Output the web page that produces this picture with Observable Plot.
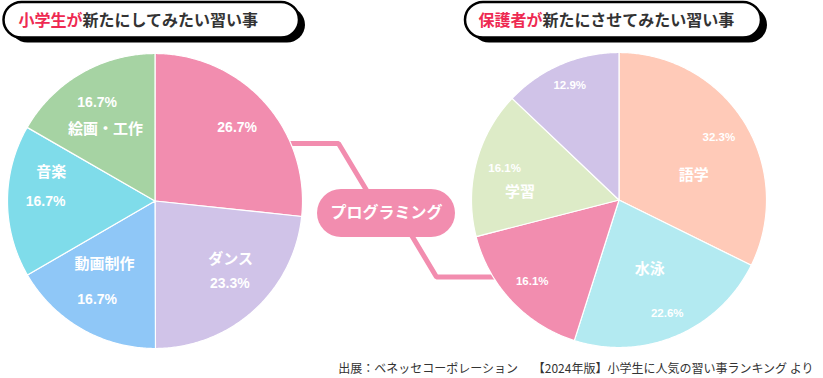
<!DOCTYPE html>
<html><head><meta charset="utf-8">
<script src="https://cdn.jsdelivr.net/npm/d3@7"></script>
<script src="https://cdn.jsdelivr.net/npm/@observablehq/plot@0.6"></script>
<style>body{margin:0;background:#fff}svg{display:block}</style>
</head><body><div id="chart"></div>
<script>
// ---- data ----
const childCategories = ["プログラミング", "ダンス", "動画制作", "音楽", "絵画・工作"];
const childValues = [26.7, 23.3, 16.7, 16.7, 16.7];
const parentCategories = ["語学", "水泳", "プログラミング", "学習", "その他"];
const parentValues = [32.3, 22.6, 16.1, 16.1, 12.9];
const titleAccents = ["小学生が", "保護者が"];
const titleRests = ["新たにしてみたい習い事", "新たにさせてみたい習い事"];
const sharedCategory = "プログラミング";
const sourceText = "出展：ベネッセコーポレーション　 【2024年版】小学生に人気の習い事ランキング より";

// ---- styles / layout ----
const childColors = ["#F28DAF", "#D0C3E8", "#8FC7F7", "#7FDCEA", "#A6D3A3"];
const parentColors = ["#FFCAB8", "#B3EAF1", "#F28DAF", "#DDEBC7", "#D0C3E8"];
const W = 823, H = 378, R = 147.5;
const pies = [
  {cx: 154.5, cy: 200.5, cats: childCategories, vals: childValues, colors: childColors, pctSize: 14,
   // [name dx, name dy, pct dx, pct dy] in radius units; null = hidden name
   lab: [[null, null, 0.557, -0.496], [0.512, 0.392, 0.507, 0.561], [-0.342, 0.431, -0.392, 0.67],
         [-0.704, -0.195, -0.742, 0.001], [-0.336, -0.485, -0.392, -0.67]]},
  {cx: 618.5, cy: 199.5, cats: parentCategories, vals: parentValues, colors: parentColors, pctSize: 11.5,
   lab: [[0.507, -0.166, 0.677, -0.426], [0.209, 0.471, 0.327, 0.765], [null, null, -0.588, 0.553],
         [-0.672, -0.053, -0.776, -0.212], [null, null, -0.334, -0.776]]}
];
const pink = "#F28DAF";
const cjk = "'Noto Sans CJK JP', sans-serif";
const num = "'Liberation Sans', Arial, 'Noto Sans CJK JP', sans-serif";

const marks = [];
const pt = (p, a, r) => ({x: p.cx + r * Math.sin(a), y: p.cy - r * Math.cos(a)});

// connector line (behind pies/pill)
{
  const L = pies[0], Rp = pies[1];
  const yTop = 143, yBot = 276.5;
  const xL = L.cx + Math.sqrt(R * R - (yTop - L.cy) ** 2) - 3;
  const xR = Rp.cx - Math.sqrt(R * R - (yBot - Rp.cy) ** 2) + 3;
  const conn = [{x: xL, y: yTop}, {x: 338, y: yTop}, {x: 380, y: 213}, {x: 398, y: 213}, {x: 436, y: yBot}, {x: xR, y: yBot}];
  marks.push(Plot.line(conn, {x: "x", y: "y", stroke: pink, strokeWidth: 5, strokeLinejoin: "miter"}));
}

for (const p of pies) {
  const arcs = d3.pie().sort(null).value(d => d)(p.vals);
  arcs.forEach((a, i) => {
    const pts = [{x: p.cx, y: p.cy}];
    const n = Math.max(2, Math.ceil((a.endAngle - a.startAngle) / 0.01));
    for (let k = 0; k <= n; k++) pts.push(pt(p, a.startAngle + (a.endAngle - a.startAngle) * k / n, R));
    marks.push(Plot.line(pts, {x: "x", y: "y", fill: p.colors[i], stroke: "white", strokeWidth: 1.2, curve: "linear-closed"}));
  });
  const names = [], pcts = [];
  arcs.forEach((a, i) => {
    const l = p.lab[i];
    if (l[0] !== null) names.push({x: p.cx + l[0] * R, y: p.cy + l[1] * R, t: p.cats[i]});
    pcts.push({x: p.cx + l[2] * R, y: p.cy + l[3] * R, t: p.vals[i].toFixed(1) + "%"});
  });
  marks.push(Plot.text(names, {x: "x", y: "y", text: "t", fill: "white", fontSize: 15, fontWeight: "bold", fontFamily: cjk, lineAnchor: "middle"}));
  marks.push(Plot.text(pcts, {x: "x", y: "y", text: "t", fill: "white", fontSize: p.pctSize, fontWeight: "bold", fontFamily: num, lineAnchor: "middle"}));
}

// center pill
marks.push(Plot.rect([{x1: 317, x2: 455, y1: 189, y2: 237}], {x1: "x1", x2: "x2", y1: "y1", y2: "y2", rx: 24, fill: pink}));
marks.push(Plot.text([sharedCategory], {x: 386, y: 212, text: d => d, fill: "white", fontSize: 16, fontWeight: "bold", fontFamily: cjk, lineAnchor: "middle"}));

// titles
const boxes = [{x1: 3.5, x2: 299, y1: 2, y2: 37.5, split: 82}, {x1: 465, x2: 761, y1: 2, y2: 37.5, split: 542}];
marks.push(Plot.rect(boxes, {x1: d => d.x1 + 6, x2: d => d.x2 + 6, y1: d => d.y1 + 5, y2: d => d.y2 + 5, rx: 18, fill: "black"}));
marks.push(Plot.rect(boxes, {x1: "x1", x2: "x2", y1: "y1", y2: "y2", rx: 18, fill: "white", stroke: "black", strokeWidth: 2.5}));
marks.push(Plot.text(boxes, {x: "split", y: 20, text: (d, i) => titleAccents[i], textAnchor: "end", fill: "#EE2A52", fontSize: 16, fontWeight: "bold", fontFamily: cjk, lineAnchor: "middle"}));
marks.push(Plot.text(boxes, {x: "split", y: 20, text: (d, i) => titleRests[i], textAnchor: "start", fill: "#333333", fontSize: 16, fontWeight: "bold", fontFamily: cjk, lineAnchor: "middle"}));

// source
marks.push(Plot.text([sourceText], {x: 813, y: 369, text: d => d, textAnchor: "end", fill: "#333333", fontSize: 12, fontFamily: cjk, lineAnchor: "middle"}));

const chart = Plot.plot({
  width: W, height: H, margin: 0,
  x: {domain: [0, W], range: [0, W], axis: null},
  y: {domain: [0, H], range: [0, H], axis: null},
  marks
});
document.getElementById("chart").append(chart);
</script></body></html>
